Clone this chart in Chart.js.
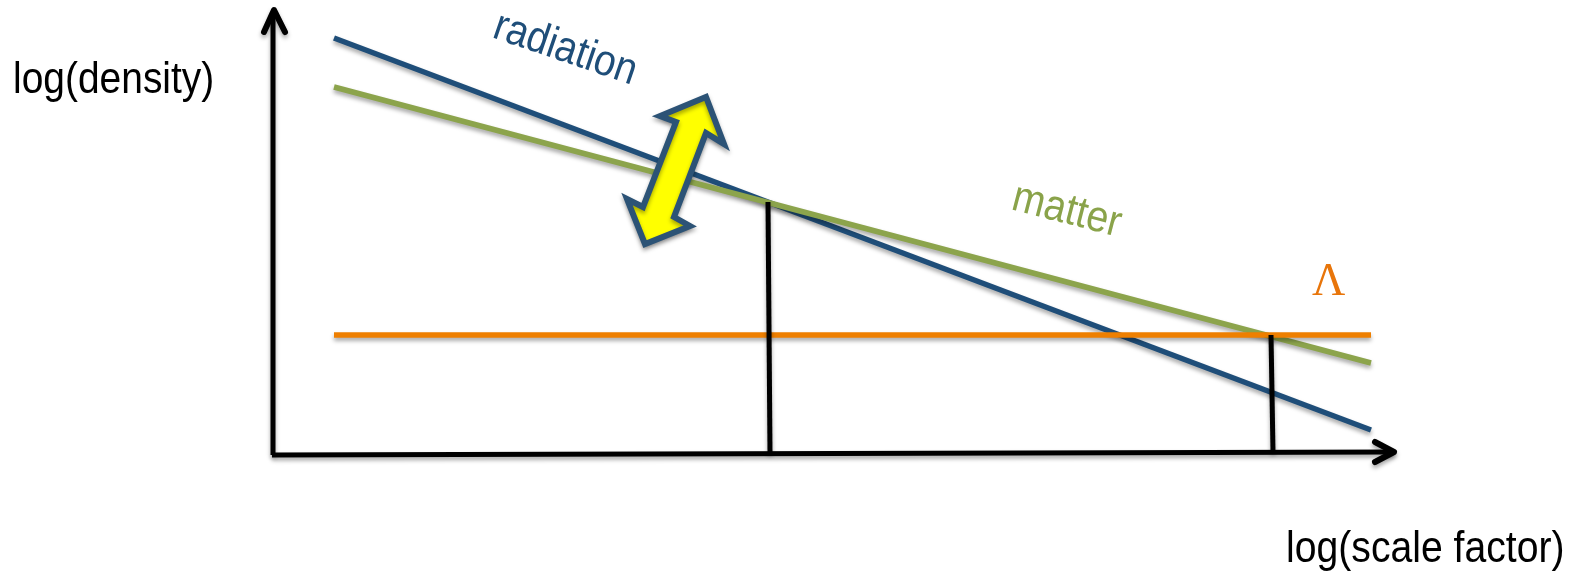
<!DOCTYPE html>
<html>
<head>
<meta charset="utf-8">
<title>log(density) vs log(scale factor)</title>
<script src="https://cdn.jsdelivr.net/npm/chart.js@4"></script>
<style>
    html, body { margin: 0; padding: 0; background: #fff; }
    canvas { display: block; }
</style>
</head>
<body>
<canvas id="chart" width="1571" height="572"></canvas>
<script>
// log(scale factor) and log(density) readings, both in arbitrary units
const radiationX = [0.62, 10.99];
const radiationY = [4.17, 0.25];
const matterX = [0.62, 10.99];
const matterY = [3.68, 0.92];
const lambdaX = [0.62, 10.99];
const lambdaY = [1.20, 1.20];

// equality markers dropped to the x axis
const equalityX = [4.96, 4.98];
const equalityY = [2.53, 0.02];
const lambdaEqualityX = [9.99, 10.01];
const lambdaEqualityY = [1.20, 0.03];

// axes and their arrow heads
const xAxisX = [0, 11.22];
const xAxisY = [0, 0.03];
const xHeadX = [11.03, 11.22, 11.03];
const xHeadY = [0.13, 0.03, -0.07];
const yAxisX = [0.01, 0.01];
const yAxisY = [0, 4.43];
const yHeadX = [-0.08, 0.02, 0.13];
const yHeadY = [4.23, 4.45, 4.23];

// yellow double arrow outline, starts and ends mid-shaft so the corners all mitre
const doubleArrowX = [4.18, 4.02, 4.18, 3.73, 3.55, 3.71, 4.04, 3.88, 4.34, 4.52, 4.34, 4.18];
const doubleArrowY = [2.80, 2.38, 2.29, 2.11, 2.56, 2.48, 3.33, 3.39, 3.58, 3.11, 3.22, 2.80];

const labelTexts = ['radiation', 'matter', 'Λ', 'log(density)', 'log(scale factor)'];
const labelX = [2.19, 7.38, 10.40, -2.59, 10.14];
const labelY = [4.18, 2.46, 1.60, 3.62, -1.07];

function series(xs, ys) {
    return xs.map((x, i) => ({ x: x, y: ys[i] }));
}

function lineSet(xs, ys, color, width, extra) {
    return Object.assign({
        data: series(xs, ys),
        borderColor: color,
        borderWidth: width,
        showLine: true,
        pointRadius: 0,
        tension: 0,
        fill: false,
        clip: false
    }, extra || {});
}

const ROUND = { borderCapStyle: 'round', borderJoinStyle: 'round' };

// Soft drop shadow under every mark
const shadowPlugin = {
    id: 'shadow',
    beforeDatasetsDraw(chart) {
        const ctx = chart.ctx;
        ctx.save();
        ctx.shadowColor = 'rgba(0,0,0,0.35)';
        ctx.shadowBlur = 4;
        ctx.shadowOffsetX = 0;
        ctx.shadowOffsetY = 3;
    },
    afterDatasetsDraw(chart) {
        chart.ctx.restore();
    }
};

// Free-standing text labels; the source font is taller and narrower than Liberation
const labelStyles = [
    { font: '44px "Liberation Sans"', color: '#1f4e79', angle: 18.8, squeeze: 0.88 },
    { font: '44px "Liberation Sans"', color: '#8aa34a', angle: 14.5, squeeze: 0.89 },
    { font: '46px "Liberation Serif"', color: '#e8750a', angle: 0, squeeze: 1 },
    { font: '44px "Liberation Sans"', color: '#000000', angle: 0, squeeze: 0.885 },
    { font: '44px "Liberation Sans"', color: '#000000', angle: 0, squeeze: 0.89 }
];

const labelPlugin = {
    id: 'labels',
    afterDraw(chart) {
        const ctx = chart.ctx;
        labelTexts.forEach((text, i) => {
            const style = labelStyles[i];
            ctx.save();
            ctx.translate(chart.scales.x.getPixelForValue(labelX[i]), chart.scales.y.getPixelForValue(labelY[i]));
            ctx.rotate(style.angle * Math.PI / 180);
            ctx.scale(style.squeeze, 1);
            ctx.font = style.font;
            ctx.fillStyle = style.color;
            ctx.textAlign = 'left';
            ctx.textBaseline = 'alphabetic';
            ctx.fillText(text, 0, 0);
            ctx.restore();
        });
    }
};

new Chart(document.getElementById('chart').getContext('2d'), {
    type: 'scatter',
    data: {
        datasets: [
            lineSet(doubleArrowX, doubleArrowY, '#2c5376', 6, {
                backgroundColor: '#ffff00',
                fill: 'shape',
                borderJoinStyle: 'miter'
            }),
            lineSet(equalityX, equalityY, '#000000', 5),
            lineSet(lambdaEqualityX, lambdaEqualityY, '#000000', 5),
            lineSet(lambdaX, lambdaY, '#ee7f00', 5.5),
            lineSet(matterX, matterY, '#8ca44c', 5.5),
            lineSet(radiationX, radiationY, '#1f4e79', 5.5),
            lineSet(xAxisX, xAxisY, '#000000', 5),
            lineSet(yAxisX, yAxisY, '#000000', 5),
            lineSet(xHeadX, xHeadY, '#000000', 6, ROUND),
            lineSet(yHeadX, yHeadY, '#000000', 6, ROUND)
        ]
    },
    options: {
        responsive: false,
        animation: false,
        layout: { padding: { left: 272, right: 171, top: 5, bottom: 117 } },
        plugins: { legend: { display: false }, tooltip: { enabled: false } },
        scales: {
            x: { type: 'linear', display: false, min: 0, max: 11.28 },
            y: { type: 'linear', display: false, min: 0, max: 4.5 }
        }
    },
    plugins: [shadowPlugin, labelPlugin]
});
</script>
</body>
</html>
